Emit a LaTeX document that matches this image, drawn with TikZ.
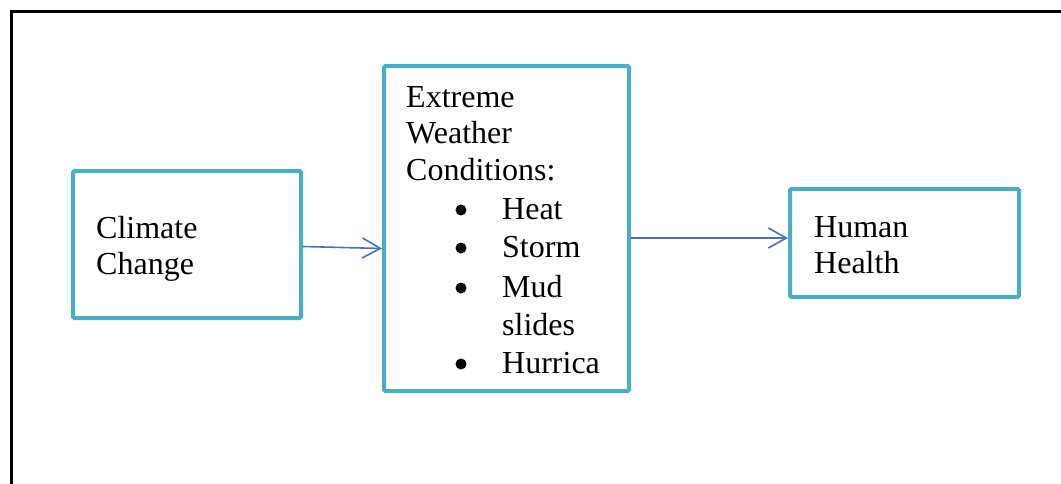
\documentclass[tikz,border=0pt]{standalone}
\usepackage{fontspec}
\setmainfont{Liberation Serif}
\usetikzlibrary{arrows.meta}
\definecolor{boxblue}{HTML}{4BACC6}
\definecolor{arrowblue}{HTML}{4472C4}
\tikzset{
  box/.style={draw=boxblue, line width=4pt, rounded corners=1.5pt, fill=white, inner sep=0pt},
  txt/.style={anchor=base west, inner sep=0pt, font=\fontsize{32}{37}\selectfont},
  conn/.style={draw=arrowblue, line width=1.6pt, -{Straight Barb[length=18pt, width=20pt, line width=1.6pt]}},
  bullet/.style={circle, fill=black, inner sep=0pt, minimum size=11pt}
}
\begin{document}
\begin{tikzpicture}[x=1pt, y=-1pt]
\useasboundingbox (0,0) rectangle (1061,483);
\clip (0,0) rectangle (1061,483);
\fill[white] (0,0) rectangle (1061,483);
\draw[line width=3pt] (11.5,495) -- (11.5,11.5) -- (1075,11.5);

\node[box, minimum width=228pt, minimum height=147pt] (cc) at (187,244.5) {};
\node[box, minimum width=245pt, minimum height=325pt] (ew) at (506.5,228.5) {};
\node[box, minimum width=229pt, minimum height=108pt] (hh) at (904.5,243) {};

\node[txt] (cc1) at (96,238) {Climate};
\node[txt] (cc2) at (96,274) {Change};

\node[txt] (ew1) at (406,107) {Extreme};
\node[txt] (ew2) at (406,143) {Weather};
\node[txt] (ew3) at (406,180) {Conditions:};
\node[txt] (ew4) at (502,219) {Heat};
\node[txt] (ew5) at (502,257) {Storm};
\node[txt] (ew6) at (502,297) {Mud};
\node[txt] (ew7) at (502,335) {slides};
\node[txt] (ew8) at (502,373) {Hurrica};
\node[bullet] (b1) at (461,210) {};
\node[bullet] (b2) at (461,248) {};
\node[bullet] (b3) at (461,288) {};
\node[bullet] (b4) at (461,364) {};

\node[txt] (hh1) at (814,237) {Human};
\node[txt] (hh2) at (814,273) {Health};

\draw[conn] ([yshift=-2pt]cc.east) -- ([yshift=-20pt]ew.west);
\draw[conn] ([yshift=-9.5pt]ew.east) -- ([yshift=5pt]hh.west);
\end{tikzpicture}
\end{document}
